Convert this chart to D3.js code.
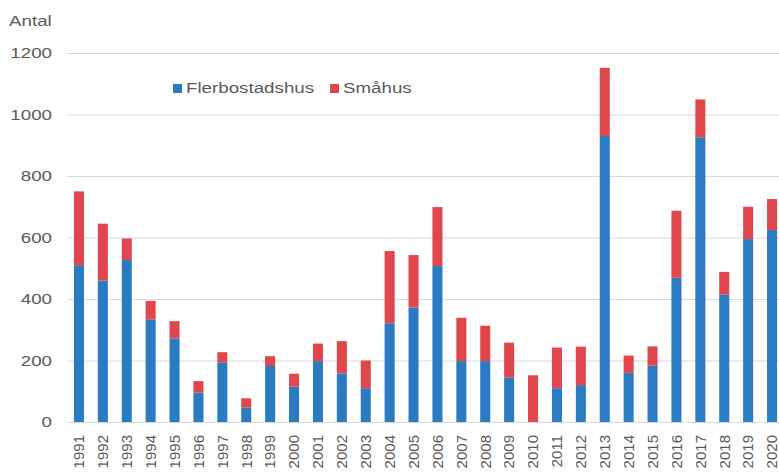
<!DOCTYPE html>
<meta charset="utf-8">
<script src="https://d3js.org/d3.v7.min.js"></script>
<style>
  body { margin: 0; background: #fff; }
  text { font-family: "Liberation Sans", Arial, sans-serif; fill: #595959; }
</style>
<div id="chart"></div>
<script>

// data
var years = ["1991","1992","1993","1994","1995","1996","1997","1998","1999","2000",
             "2001","2002","2003","2004","2005","2006","2007","2008","2009","2010",
             "2011","2012","2013","2014","2015","2016","2017","2018","2019","2020"];
var flerbostadshus = [510, 460, 527, 334, 272, 96, 194, 47, 182, 115,
                      198, 158, 110, 321, 372, 507, 198, 198, 144, 0,
                      110, 120, 930, 160, 183, 469, 926, 415, 595, 624];
var smahus = [240, 185, 70, 60, 56, 37, 33, 30, 32, 42,
              57, 105, 90, 235, 171, 192, 141, 115, 114, 152,
              132, 125, 222, 56, 63, 218, 123, 73, 105, 101];
var yTicks = [0, 200, 400, 600, 800, 1000, 1200];
var seriesNames = ["Flerbostadshus", "Småhus"];
var colors = ["#2a7bc1", "#e0474c"];

var W = 779, H = 476;
var plotLeft = 67, plotRight = 784, plotTop = 53, plotBottom = 422;

var svg = d3.select("#chart")
  .append("svg")
    .attr("width", W)
    .attr("height", H);

var x = d3.scaleBand()
  .domain(years)
  .range([plotLeft, plotRight])
  .paddingInner(0.58)
  .paddingOuter(0.29);

var y = d3.scaleLinear()
  .domain([0, 1200])
  .range([plotBottom, plotTop]);

// gridlines
svg.append("g")
  .selectAll("line")
  .data(yTicks)
  .join("line")
    .attr("x1", plotLeft)
    .attr("x2", W)
    .attr("y1", d => y(d) + 0.5)
    .attr("y2", d => y(d) + 0.5)
    .attr("stroke", "#d9d9d9")
    .attr("stroke-width", 1);

// y labels (text is a bit wide in the original, so stretch it)
svg.append("g")
  .selectAll("text")
  .data(yTicks)
  .join("text")
    .attr("transform", d => "translate(52," + y(d) + ") scale(1.25,1)")
    .attr("text-anchor", "end")
    .attr("dy", "0.35em")
    .style("font-size", "15px")
    .text(d => d);

svg.append("text")
  .attr("transform", "translate(9,26) scale(1.25,1)")
  .style("font-size", "15px")
  .text("Antal");

// stacked bars
var table = years.map((yr, i) => ({year: yr, Flerbostadshus: flerbostadshus[i], "Småhus": smahus[i]}));
var stacked = d3.stack().keys(seriesNames)(table);

svg.append("g")
  .selectAll("g")
  .data(stacked)
  .join("g")
    .attr("fill", (d, i) => colors[i])
  .selectAll("rect")
  .data(d => d)
  .join("rect")
    .attr("x", d => x(d.data.year))
    .attr("width", x.bandwidth())
    .attr("y", d => y(d[1]))
    .attr("height", d => y(d[0]) - y(d[1]));

// x labels, rotated
svg.append("g")
  .selectAll("text")
  .data(years)
  .join("text")
    .attr("transform", d => "translate(" + (x(d) + x.bandwidth() / 2) + "," + plotBottom + ") rotate(-90)")
    .attr("x", -13)
    .attr("dy", "0.35em")
    .attr("text-anchor", "end")
    .style("font-size", "15px")
    .text(d => d);

// legend
var legend = svg.append("g");
var legendX = [173, 330];
seriesNames.forEach(function(name, i) {
  legend.append("rect")
    .attr("x", legendX[i])
    .attr("y", 84)
    .attr("width", 9)
    .attr("height", 9)
    .attr("fill", colors[i]);
  legend.append("text")
    .attr("transform", "translate(" + (legendX[i] + 13) + ",88) scale(1.25,1)")
    .attr("dy", "0.35em")
    .style("font-size", "15px")
    .text(name);
});

</script>
